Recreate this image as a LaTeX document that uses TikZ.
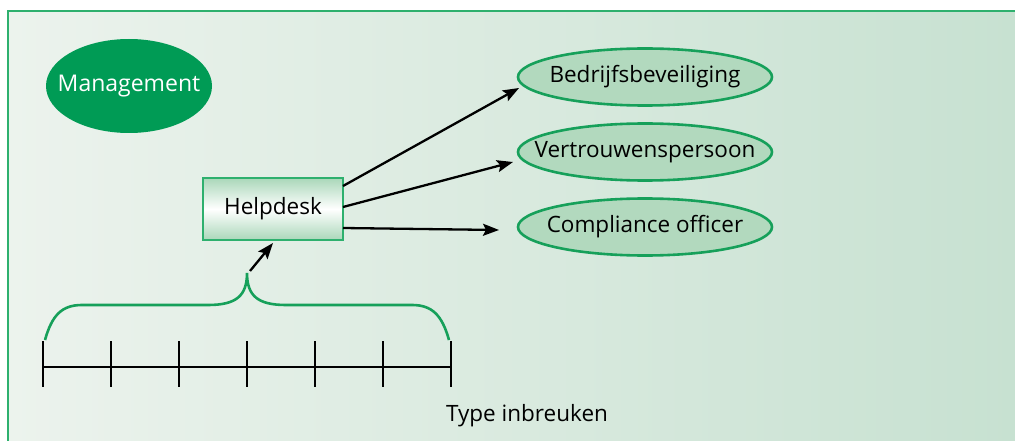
\documentclass[tikz,border=0pt]{standalone}
\usepackage{fontspec}
\setmainfont{Open Sans}
\usetikzlibrary{shapes.geometric,arrows.meta}
\definecolor{frameline}{RGB}{46,176,110}
\definecolor{bgleft}{RGB}{236,243,237}
\definecolor{bgright}{RGB}{199,225,209}
\definecolor{mgmt}{RGB}{0,155,85}
\definecolor{ovalfill}{RGB}{178,217,190}
\definecolor{ovalline}{RGB}{22,160,90}
\definecolor{boxgreen}{RGB}{170,215,185}
\tikzset{
  oval/.style={ellipse, draw=ovalline, line width=2.6pt, fill=ovalfill,
    minimum width=254pt, minimum height=57pt, inner xsep=-24pt, inner ysep=0pt,
    font=\fontsize{22.5}{24}\selectfont},
  flow/.style={line width=2.3pt, -{Stealth[length=16pt,width=12pt,inset=3pt]}},
  tick/.style={line width=2pt},
}
\begin{document}
\begin{tikzpicture}[x=1pt,y=-1pt]
\useasboundingbox (0,0) rectangle (1015,441);
% panel background
\shade[left color=bgleft, right color=bgright] (8,11) rectangle (1015,441);
\draw[frameline, line width=2.6pt] (8,441) -- (8,11) -- (1015,11);

% nodes
\node[ellipse, fill=mgmt, minimum width=166pt, minimum height=94pt,
      inner xsep=-16pt, inner ysep=0pt,
      text=white, font=\fontsize{23}{25}\selectfont] (mgmt) at (129,86) {Management};
\node[draw=frameline, line width=2pt, top color=boxgreen, bottom color=boxgreen,
      middle color=white, minimum width=140pt, minimum height=62pt, inner sep=0pt,
      font=\fontsize{22.5}{24}\selectfont] (help) at (273,209) {Helpdesk};
\node[oval] (bedr) at (645,77) {Bedrijfsbeveiliging};
\node[oval] (vert) at (645,152) {Vertrouwenspersoon};
\node[oval] (comp) at (645,227) {Compliance officer};

% connectors
\coordinate (h1) at (343,186);
\coordinate (h2) at (343,207);
\coordinate (h3) at (343,228);
\coordinate (e1) at (519,88);
\coordinate (e2) at (513,162);
\coordinate (e3) at (499,230);
\draw[flow] (h1) -- (e1);
\draw[flow] (h2) -- (e2);
\draw[flow] (h3) -- (e3);

% axis with ticks
\draw[tick] (43,367) -- (451,367);
\foreach \x in {43,111,179,247,315,383,451}
  \draw[tick] (\x,341) -- (\x,387);

% brace
\coordinate (tip) at (247,273);
\draw[ovalline, line width=2.6pt]
  (45,340) .. controls (52,315) and (62,305) .. (82,305) -- (208,305)
  .. controls (236,305) and (247,296) .. (tip)
  .. controls (247,296) and (258,305) .. (286,305) -- (412,305)
  .. controls (432,305) and (442,315) .. (449,340);
\coordinate (up) at (273,243);
\draw[flow] (250,271) -- (up);

\node[font=\fontsize{22.5}{24}\selectfont, anchor=base] (type) at (527,421) {Type inbreuken};
\end{tikzpicture}
\end{document}
